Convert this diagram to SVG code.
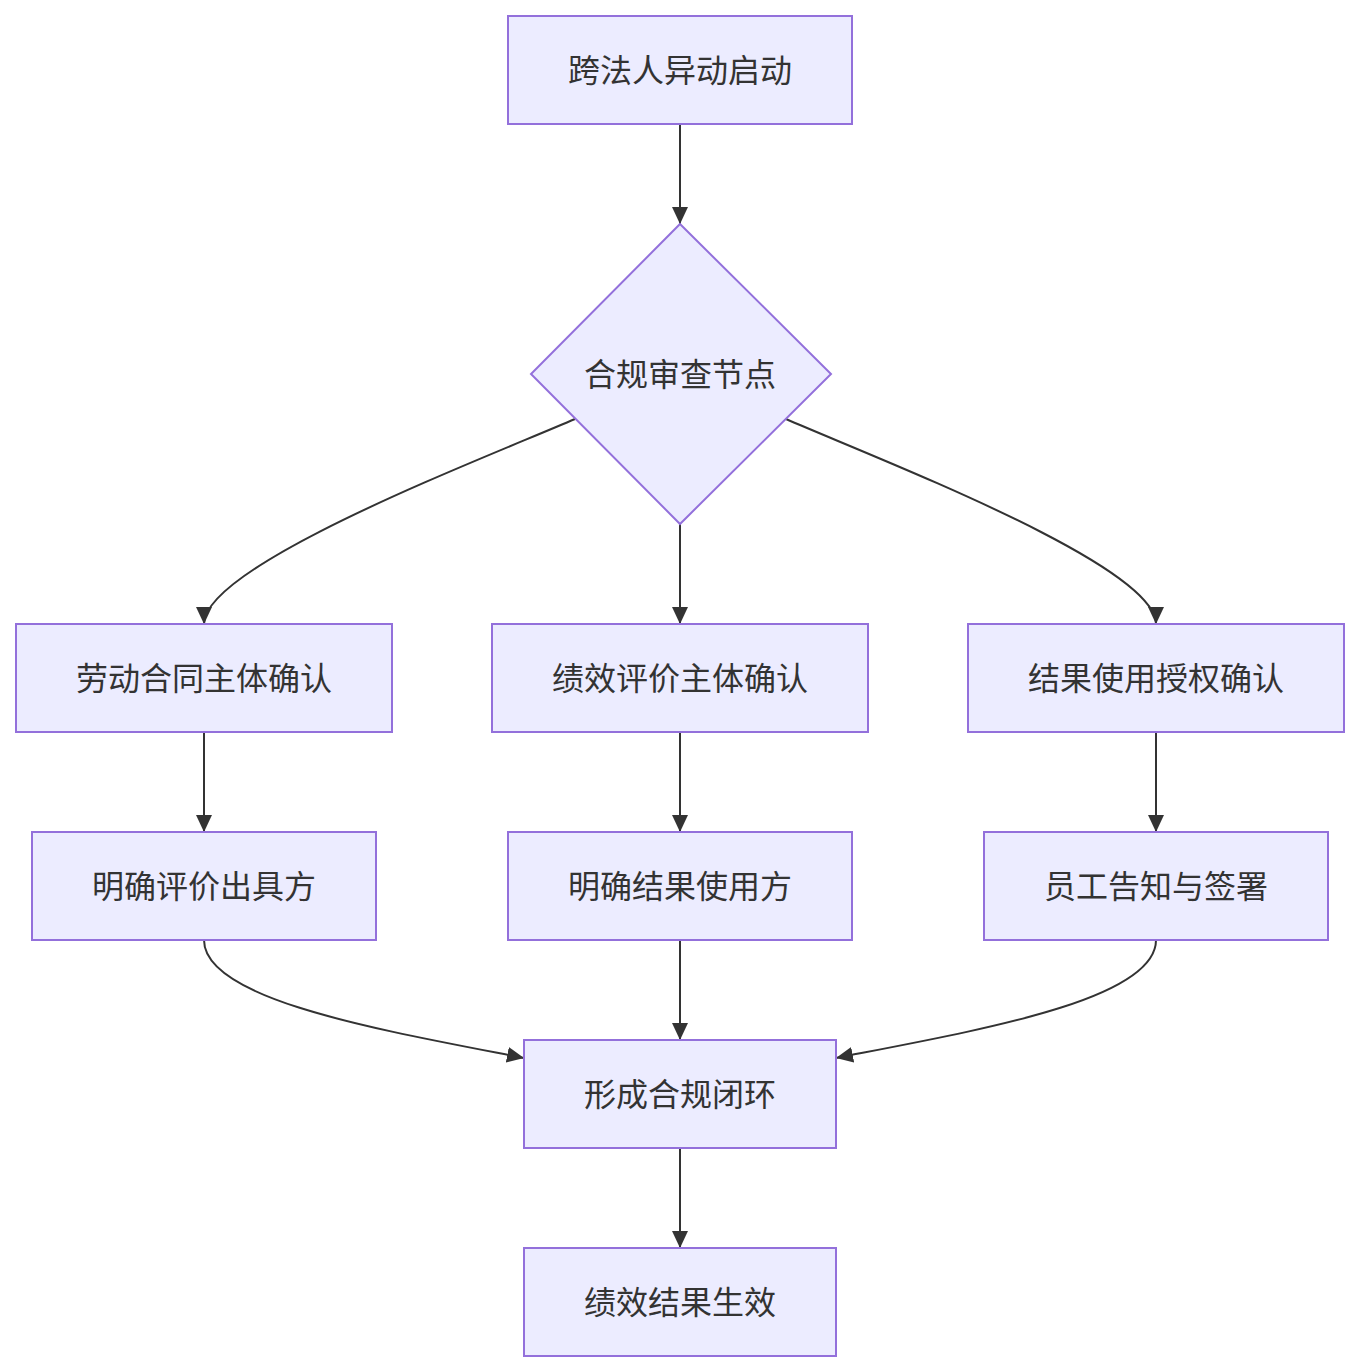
<svg xmlns="http://www.w3.org/2000/svg" width="1360" height="1372" viewBox="0 0 1360 1372">
<style>
.node rect, .node polygon { fill: #ECECFF; stroke: #9370DB; stroke-width: 2; }
.node text { font-family: "Noto Sans CJK SC", "Liberation Sans", sans-serif; font-size: 32px; fill: #333333; text-anchor: middle; dominant-baseline: central; }
.edges path { fill: none; stroke: #333333; stroke-width: 2; }
</style>
<defs>
<marker id="arrow" markerUnits="userSpaceOnUse" markerWidth="18" markerHeight="18" refX="17" refY="8" orient="auto" viewBox="0 0 18 16">
<path d="M0,0 L17,8 L0,16 z" fill="#333333"/>
</marker>
</defs>
<rect width="1360" height="1372" fill="#ffffff"/>
<g class="edges">
<path d="M680,124 L680,224" marker-end="url(#arrow)"/>
<path d="M575,419 C480,460 204,565 204,624" marker-end="url(#arrow)"/>
<path d="M680,524 L680,624" marker-end="url(#arrow)"/>
<path d="M786,419 C880,460 1156,565 1156,624" marker-end="url(#arrow)"/>
<path d="M204,732 L204,832" marker-end="url(#arrow)"/>
<path d="M680,732 L680,832" marker-end="url(#arrow)"/>
<path d="M1156,732 L1156,832" marker-end="url(#arrow)"/>
<path d="M204,940 C204,1000 380,1030 524,1058" marker-end="url(#arrow)"/>
<path d="M680,940 L680,1040" marker-end="url(#arrow)"/>
<path d="M1156,940 C1156,1000 980,1030 836,1058" marker-end="url(#arrow)"/>
<path d="M680,1148 L680,1248" marker-end="url(#arrow)"/>
</g>
<g class="node" id="start"><rect x="508" y="16" width="344" height="108"/><text x="680" y="68">跨法人异动启动</text></g>
<g class="node" id="review"><polygon points="680,224 831,374 680,524 531,374"/><text x="680" y="372">合规审查节点</text></g>
<g class="node" id="labor"><rect x="16" y="624" width="376" height="108"/><text x="204" y="676">劳动合同主体确认</text></g>
<g class="node" id="perf"><rect x="492" y="624" width="376" height="108"/><text x="680" y="676">绩效评价主体确认</text></g>
<g class="node" id="auth"><rect x="968" y="624" width="376" height="108"/><text x="1156" y="676">结果使用授权确认</text></g>
<g class="node" id="issuer"><rect x="32" y="832" width="344" height="108"/><text x="204" y="884">明确评价出具方</text></g>
<g class="node" id="user"><rect x="508" y="832" width="344" height="108"/><text x="680" y="884">明确结果使用方</text></g>
<g class="node" id="notify"><rect x="984" y="832" width="344" height="108"/><text x="1156" y="884">员工告知与签署</text></g>
<g class="node" id="loop"><rect x="524" y="1040" width="312" height="108"/><text x="680" y="1092">形成合规闭环</text></g>
<g class="node" id="effect"><rect x="524" y="1248" width="312" height="108"/><text x="680" y="1300">绩效结果生效</text></g>
</svg>
